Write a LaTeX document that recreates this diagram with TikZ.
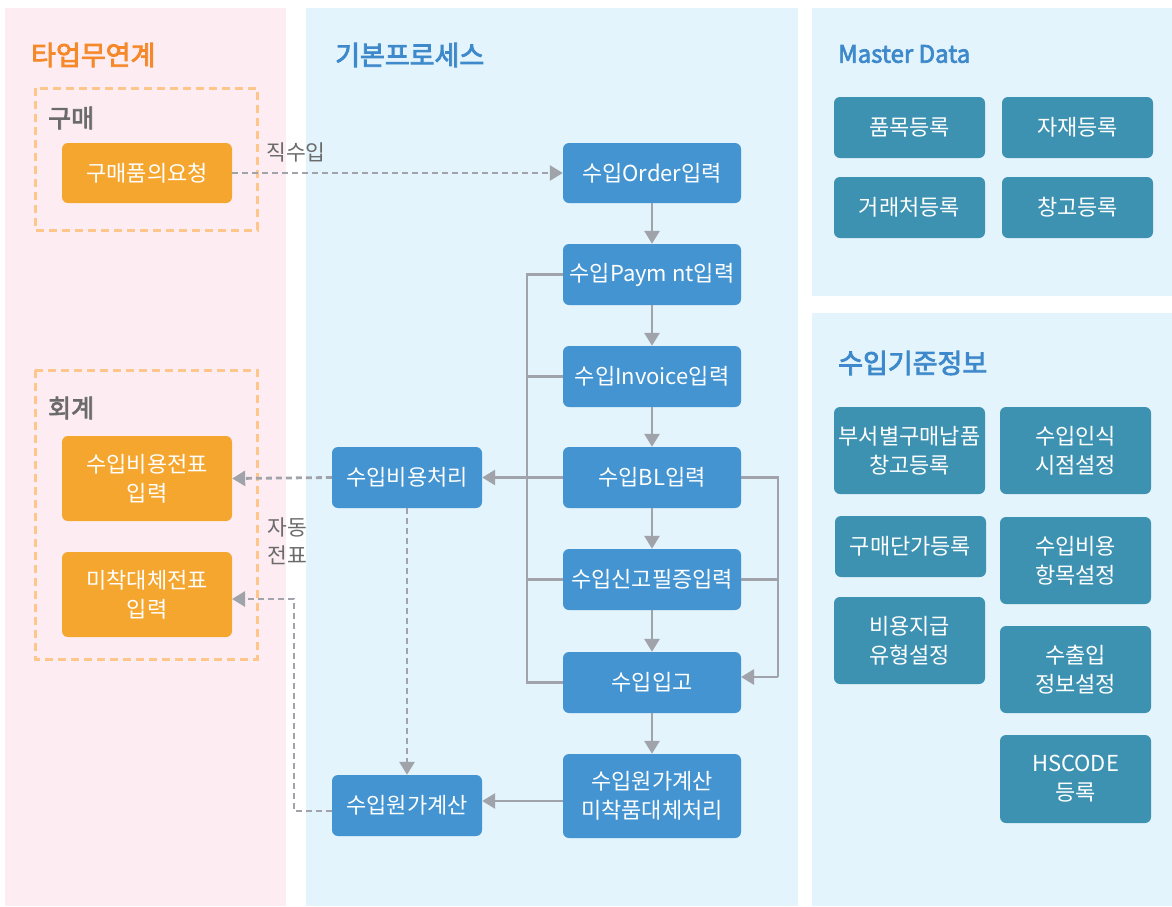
\documentclass[tikz,border=0pt]{standalone}
\usepackage{fontspec}
\setmainfont{Noto Sans CJK KR}
\newfontfamily\ttlfont[FakeBold=3]{Noto Sans CJK KR}
\usetikzlibrary{arrows.meta,calc}
\definecolor{pinkbg}{HTML}{FDEDF3}
\definecolor{bluebg}{HTML}{E3F4FC}
\definecolor{orn}{HTML}{F5A62E}
\definecolor{bnd}{HTML}{4394D1}
\definecolor{tealnd}{HTML}{3D92B2}
\definecolor{lgray}{HTML}{A0A4AA}
\definecolor{odash}{HTML}{FFC68C}
\definecolor{torange}{HTML}{F5892A}
\definecolor{tblue}{HTML}{3E89CB}
\definecolor{tgray}{HTML}{6B6B6B}
\begin{document}
\begin{tikzpicture}[x=1pt,y=-1pt,
  box/.style={rounded corners=6pt, inner sep=0pt, align=center, text=white, font=\fontsize{22}{29}\selectfont},
  onode/.style={box, fill=orn, minimum width=170pt},
  bnode/.style={box, fill=bnd, minimum width=178pt, minimum height=61pt},
  cnode/.style={box, fill=bnd, minimum width=150pt, minimum height=61pt},
  tnode/.style={box, fill=tealnd, minimum width=151pt},
  line/.style={draw=lgray, line width=2.8pt},
  arr/.style={line, -{Triangle[length=13pt,width=15pt]}},
  dline/.style={draw=lgray, line width=2.8pt, dash pattern=on 6pt off 4pt},
  darr/.style={dline, -{Triangle[length=13pt,width=15pt]}},
  odbox/.style={draw=odash, line width=3pt, dash pattern=on 8pt off 5pt},
  ttl/.style={anchor=west, inner sep=0pt, font=\fontsize{27}{32}\ttlfont},
  sub/.style={anchor=west, inner sep=0pt, text=tgray, font=\fontsize{25}{30}\ttlfont},
  lbl/.style={inner sep=0pt, text=tgray, align=center, font=\fontsize{21.5}{28}\selectfont}
]
\useasboundingbox (0,0) rectangle (1172,906);
% panels
\fill[pinkbg] (5,8) rectangle (286,906);
\fill[bluebg] (306,8) rectangle (798,906);
\fill[bluebg] (812,8) rectangle (1172,296);
\fill[bluebg] (812,313) rectangle (1172,906);
% dashed groups
\draw[odbox] (35,88) rectangle (257,230);
\draw[odbox] (35,370) rectangle (257,659);
% titles
\node[ttl, text=torange] (t1) at (31,55) {타업무연계};
\node[ttl, text=tblue] (t2) at (335,55) {기본프로세스};
\node[ttl, text=tblue, font=\fontsize{24}{30}\ttlfont] (t3) at (838,54) {Master Data};
\node[ttl, text=tblue] (t4) at (838,363) {수입기준정보};
\node[sub] (g1) at (48,118) {구매};
\node[sub] (g2) at (48,408) {회계};
% orange nodes
\node[onode, minimum height=60pt] (req) at (147,173) {구매품의요청};
\node[onode, minimum height=85pt] (acc1) at (147,478.5) {수입비용전표\\입력};
\node[onode, minimum height=85pt] (acc2) at (147,594.5) {미착대체전표\\입력};
% blue process nodes
\node[bnode, minimum height=60pt] (order) at (652,173) {수입Order입력};
\node[bnode] (pay) at (652,274.5) {수입Paym nt입력};
\node[bnode] (inv) at (652,376.5) {수입Invoice입력};
\node[bnode] (bl) at (652,477.5) {수입BL입력};
\node[bnode] (sg) at (652,579.5) {수입신고필증입력};
\node[bnode] (ipgo) at (652,682.5) {수입입고};
\node[bnode, minimum height=84pt] (mich) at (652,796) {수입원가계산\\미착품대체처리};
\node[cnode] (cost) at (407,477.5) {수입비용처리};
\node[cnode] (wonga) at (407,805.5) {수입원가계산};
% teal nodes
\node[tnode, minimum height=61pt] (md1) at (909.5,127.5) {품목등록};
\node[tnode, minimum height=61pt] (md2) at (1077.5,127.5) {자재등록};
\node[tnode, minimum height=61pt] (md3) at (909.5,207.5) {거래처등록};
\node[tnode, minimum height=61pt] (md4) at (1077.5,207.5) {창고등록};
\node[tnode, minimum height=87pt] (s1) at (909.5,450.5) {부서별구매납품\\창고등록};
\node[tnode, minimum height=87pt] (s2) at (1075.5,450.5) {수입인식\\시점설정};
\node[tnode, minimum height=61pt] (s3) at (910.5,546.5) {구매단가등록};
\node[tnode, minimum height=87pt] (s4) at (1075.5,560.5) {수입비용\\항목설정};
\node[tnode, minimum height=87pt] (s5) at (909.5,640.5) {비용지급\\유형설정};
\node[tnode, minimum height=87pt] (s6) at (1075.5,669.5) {수출입\\정보설정};
\node[tnode, minimum height=88pt] (s7) at (1075.5,779) {HSCODE\\등록};
% labels
\node[lbl] (l1) at (296,152) {직수입};
\node[lbl] (l2) at (287,541) {자동\\전표};
% helper coordinates
\coordinate (busL) at (527,0);
\coordinate (busR) at (778,0);
\coordinate (ipgoR) at (741,677);
\coordinate (michW) at (563,801);
\coordinate (wongaW) at (332,811);
\coordinate (detour) at (294,0);
\coordinate (acc2E) at (232,599);
% main flow
\draw[arr] (order) -- (pay);
\draw[arr] (pay) -- (inv);
\draw[arr] (inv) -- (bl);
\draw[arr] (bl) -- (sg);
\draw[arr] (sg) -- (ipgo);
\draw[arr] (ipgo) -- (mich);
% left bus
\draw[line] (pay.west) -- (pay.west -| busL) -- (ipgo.west -| busL) -- (ipgo.west);
\draw[line] (inv.west) -- (inv.west -| busL);
\draw[line] (sg.west) -- (sg.west -| busL);
\draw[arr] (bl.west) -- (cost.east);
% right bus
\draw[line] (bl.east) -- (bl.east -| busR) -- (ipgoR -| busR);
\draw[arr] (ipgoR -| busR) -- (ipgoR);
\draw[line] (sg.east) -- (sg.east -| busR);
% to cost calc
\draw[arr] (michW) -- (michW -| wonga.east);
% dashed
\draw[darr] (req.east) -- (order.west);
\draw[darr] (cost.west) -- (acc1.east);
\draw[darr] (cost.south) -- (wonga.north);
\draw[darr] (wongaW) -- (wongaW -| detour) -- (acc2E -| detour) -- (acc2E);
\end{tikzpicture}
\end{document}
